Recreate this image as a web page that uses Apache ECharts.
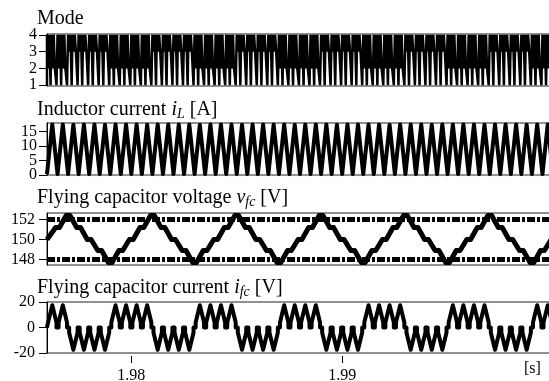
<!DOCTYPE html>
<html>
<head>
<meta charset="utf-8">
<script src="https://cdn.jsdelivr.net/npm/echarts@6/dist/echarts.min.js"></script>
<style>
  html, body { margin: 0; padding: 0; background: #fff; }
  #chart { width: 549px; height: 381px; }
</style>
</head>
<body>
<div id="chart"></div>
<script>
// start time of every switching period [s]; the last one ends at periodEnd
const periodStart = [
  1.9760, 1.9765, 1.9770, 1.9775, 1.9780, 1.9785, 1.9790, 1.9795,
  1.9800, 1.9805, 1.9810, 1.9815, 1.9820, 1.9825, 1.9830, 1.9835,
  1.9840, 1.9845, 1.9850, 1.9855, 1.9860, 1.9865, 1.9870, 1.9875,
  1.9880, 1.9885, 1.9890, 1.9895, 1.9900, 1.9905, 1.9910, 1.9915,
  1.9920, 1.9925, 1.9930, 1.9935, 1.9940, 1.9945, 1.9950, 1.9955,
  1.9960, 1.9965, 1.9970, 1.9975, 1.9980, 1.9985, 1.9990, 1.9995
];
const periodEnd = 2.0;

// mode used between the full-on pulses (2 = charging fc, 3 = discharging fc)
const modeLevel = [
  2, 2, 3, 3, 3, 3, 2, 2, 2, 2, 3, 3, 3, 3, 2, 2,
  2, 2, 3, 3, 3, 3, 2, 2, 2, 2, 3, 3, 3, 3, 2, 2,
  2, 2, 3, 3, 3, 3, 2, 2, 2, 2, 3, 3, 3, 3, 2, 2
];

// inductor current: peak inside each period, valley at each period edge [A]
const ilPeak = [
  17.5, 17.5, 17.4, 17.5, 17.5, 17.4, 17.5, 17.5, 17.5, 17.4, 17.5, 17.5,
  17.5, 17.5, 17.4, 17.5, 17.5, 17.5, 17.4, 17.5, 17.5, 17.5, 17.5, 17.4,
  17.5, 17.5, 17.5, 17.4, 17.5, 17.5, 17.5, 17.5, 17.4, 17.5, 17.5, 17.5,
  17.4, 17.5, 17.5, 17.5, 17.5, 17.4, 17.5, 17.5, 17.5, 17.4, 17.5, 17.5
];
const ilValley = [
  0.3, 0.3, 0.3, 0.3, 0.3, 0.3, 0.3, 0.3, 0.3, 0.3, 0.3, 0.3, 0.3,
  0.3, 0.3, 0.3, 0.3, 0.3, 0.3, 0.3, 0.3, 0.3, 0.3, 0.3, 0.3,
  0.3, 0.3, 0.3, 0.3, 0.3, 0.3, 0.3, 0.3, 0.3, 0.3, 0.3, 0.3,
  0.3, 0.3, 0.3, 0.3, 0.3, 0.3, 0.3, 0.3, 0.3, 0.3, 0.3, 0.3
];

// flying capacitor voltage at each period edge [V]
const vfcAtEdge = [
  150.0, 151.2, 152.4, 151.2, 150.0, 148.9, 147.7, 148.9,
  150.0, 151.2, 152.4, 151.2, 150.0, 148.9, 147.7, 148.9,
  150.0, 151.2, 152.4, 151.2, 150.0, 148.9, 147.7, 148.9,
  150.0, 151.2, 152.4, 151.2, 150.0, 148.9, 147.7, 148.9,
  150.0, 151.2, 152.4, 151.2, 150.0, 148.9, 147.7, 148.9,
  150.0, 151.2, 152.4, 151.2, 150.0, 148.9, 147.7, 148.9,
  150.0
];
const vfcBand = [148, 152];

// flying capacitor current: hump peak per period (sign = direction) and hump foot [A]
const ifcPeak = [
  17.5, 17.5, -17.5, -17.5, -17.5, -17.5, 17.5, 17.5, 17.5, 17.5, -17.5, -17.5,
  -17.5, -17.5, 17.5, 17.5, 17.5, 17.5, -17.5, -17.5, -17.5, -17.5, 17.5, 17.5,
  17.5, 17.5, -17.5, -17.5, -17.5, -17.5, 17.5, 17.5, 17.5, 17.5, -17.5, -17.5,
  -17.5, -17.5, 17.5, 17.5, 17.5, 17.5, -17.5, -17.5, -17.5, -17.5, 17.5, 17.5
];
const ifcFoot = [4, 4];

const modeTicks = [1, 2, 3, 4];
const ilTicksA = [0, 10];
const ilTicksB = [5, 15];
const vfcTicks = [148, 150, 152];
const ifcTicks = [-20, 0, 20];
const timeTicks = [1.98, 1.99];

const FONT = 'Liberation Serif';

function periodStop(k) {
  return k + 1 < periodStart.length ? periodStart[k + 1] : periodEnd;
}

// step trace of the mode signal inside one period ('L' = the fc mode of that period)
const modeShape = [
  [0, 1], [0, 4], [0.12, 4], [0.12, 'L'], [0.22, 'L'], [0.22, 4], [0.34, 4], [0.34, 1],
  [0.42, 1], [0.42, 4], [0.54, 4], [0.54, 'L'], [0.64, 'L'], [0.64, 4], [0.74, 4],
  [0.74, 'L'], [0.9, 'L'], [0.9, 1]
];
const modePts = [];
const ilPts = [];
const ifcPts = [];
const vfcPts = [[periodStart[0], vfcAtEdge[0]]];
periodStart.forEach((t0, k) => {
  const dt = periodStop(k) - t0;
  modeShape.forEach(([f, lv]) => modePts.push([t0 + f * dt, lv === 'L' ? modeLevel[k] : lv]));
  ilPts.push([t0, ilValley[k]], [t0 + dt / 2, ilPeak[k]]);
  const foot = ifcPeak[k] > 0 ? ifcFoot[0] : -ifcFoot[1];
  ifcPts.push([t0, 0], [t0 + 0.1 * dt, 0], [t0 + 0.1 * dt, foot], [t0 + 0.5 * dt, ifcPeak[k]],
    [t0 + 0.9 * dt, foot], [t0 + 0.9 * dt, 0]);
  vfcPts.push([t0 + 0.18 * dt, vfcAtEdge[k]], [t0 + 0.82 * dt, vfcAtEdge[k + 1]]);
});
modePts.push([periodEnd, 1]);
ilPts.push([periodEnd, ilValley[ilValley.length - 1]]);
ifcPts.push([periodEnd, 0]);
vfcPts.push([periodEnd, vfcAtEdge[vfcAtEdge.length - 1]]);

const panels = [
  { top: 34, height: 52, min: 0.95, max: 4.05, margin: 10 },
  { top: 123, height: 52, min: 0, max: 18, margin: 10 },
  { top: 213, height: 52, min: 147.45, max: 152.65, margin: 12 },
  { top: 302, height: 51, min: -20, max: 20, margin: 12 }
];
// y axes: [grid, tick values]; the inductor panel is labelled by two axes so no label gets dropped
const yAxisDefs = [[0, modeTicks], [1, ilTicksA], [1, ilTicksB], [2, vfcTicks], [3, ifcTicks]];

const chart = echarts.init(document.getElementById('chart'), null, { renderer: 'canvas' });

const titleStyle = {
  fontFamily: FONT, fontSize: 20, fontWeight: 'normal', color: '#000',
  rich: {
    it: { fontFamily: FONT, fontSize: 20, fontStyle: 'italic', color: '#000' },
    sub: { fontFamily: FONT, fontSize: 14, fontStyle: 'italic', color: '#000', padding: [9, 0, 0, 0] },
    n: { fontFamily: FONT, fontSize: 20, color: '#000' }
  }
};

chart.setOption({
  animation: false,
  backgroundColor: '#fff',
  title: [
    { text: 'Mode', left: 37, top: 9, padding: 0, textStyle: titleStyle },
    { text: '{n|Inductor current }{it|i}{sub|L}{n| [A]}', left: 37, top: 98, padding: 0, textStyle: titleStyle },
    { text: '{n|Flying capacitor voltage }{it|v}{sub|fc}{n| [V]}', left: 37, top: 186, padding: 0, textStyle: titleStyle },
    { text: '{n|Flying capacitor current }{it|i}{sub|fc}{n| [V]}', left: 37, top: 276, padding: 0, textStyle: titleStyle }
  ],
  graphic: [
    { type: 'text', left: 524, top: 361, style: { text: '[s]', font: '16px "Liberation Serif"', fill: '#000' } }
  ],
  grid: panels.map((p) => ({
    left: 47, width: 506, top: p.top, height: p.height,
    outerBoundsMode: 'none', containLabel: false,
    show: true, borderColor: '#222', borderWidth: 1, backgroundColor: 'transparent'
  })),
  xAxis: panels.map((p, i) => ({
    type: 'value', gridIndex: i, min: 1.976, max: 2.0,
    position: 'bottom',
    offset: i === 3 ? 3 : 0,
    axisLine: { show: false, onZero: false },
    splitLine: { show: false },
    axisTick: i === 3
      ? { show: true, length: 7, customValues: timeTicks, lineStyle: { color: '#000', width: 1 } }
      : { show: false },
    axisLabel: i === 3
      ? { show: true, customValues: timeTicks, margin: 12, fontFamily: FONT, fontSize: 16, color: '#000',
          formatter: (v) => v.toFixed(2) }
      : { show: false }
  })),
  yAxis: yAxisDefs.map(([g, ticks]) => ({
    type: 'value', gridIndex: g, min: panels[g].min, max: panels[g].max,
    position: 'left',
    axisLine: { show: true, onZero: false, lineStyle: { color: '#000', width: 1 } },
    splitLine: { show: false },
    axisTick: { show: true, length: 8, customValues: ticks, lineStyle: { color: '#000', width: 1 } },
    axisLabel: {
      show: true, customValues: ticks, margin: panels[g].margin, fontFamily: FONT, fontSize: 16, color: '#000',
      hideOverlap: false, showMinLabel: true, showMaxLabel: true
    }
  })),
  series: [
    {
      name: 'Mode', type: 'line', xAxisIndex: 0, yAxisIndex: 0, data: modePts,
      symbol: 'none', lineStyle: { color: '#000', width: 2.5 }
    },
    {
      name: 'iL', type: 'line', xAxisIndex: 1, yAxisIndex: 1, data: ilPts,
      symbol: 'none', lineStyle: { color: '#000', width: 4, join: 'round' }
    },
    {
      name: 'band', type: 'line', xAxisIndex: 2, yAxisIndex: 3, data: [], z: 1,
      markLine: {
        silent: true, symbol: 'none', label: { show: false }, animation: false,
        lineStyle: { color: '#000', width: 5, type: [8, 2, 3, 2] },
        data: vfcBand.map((v) => ({ yAxis: v }))
      }
    },
    {
      name: 'vfc', type: 'line', xAxisIndex: 2, yAxisIndex: 3, data: vfcPts, z: 3,
      symbol: 'none', lineStyle: { color: '#000', width: 5, join: 'round' }
    },
    {
      name: 'ifc', type: 'line', xAxisIndex: 3, yAxisIndex: 4, data: ifcPts,
      symbol: 'none', lineStyle: { color: '#000', width: 4, join: 'round' }
    }
  ]
});
</script>
</body>
</html>
